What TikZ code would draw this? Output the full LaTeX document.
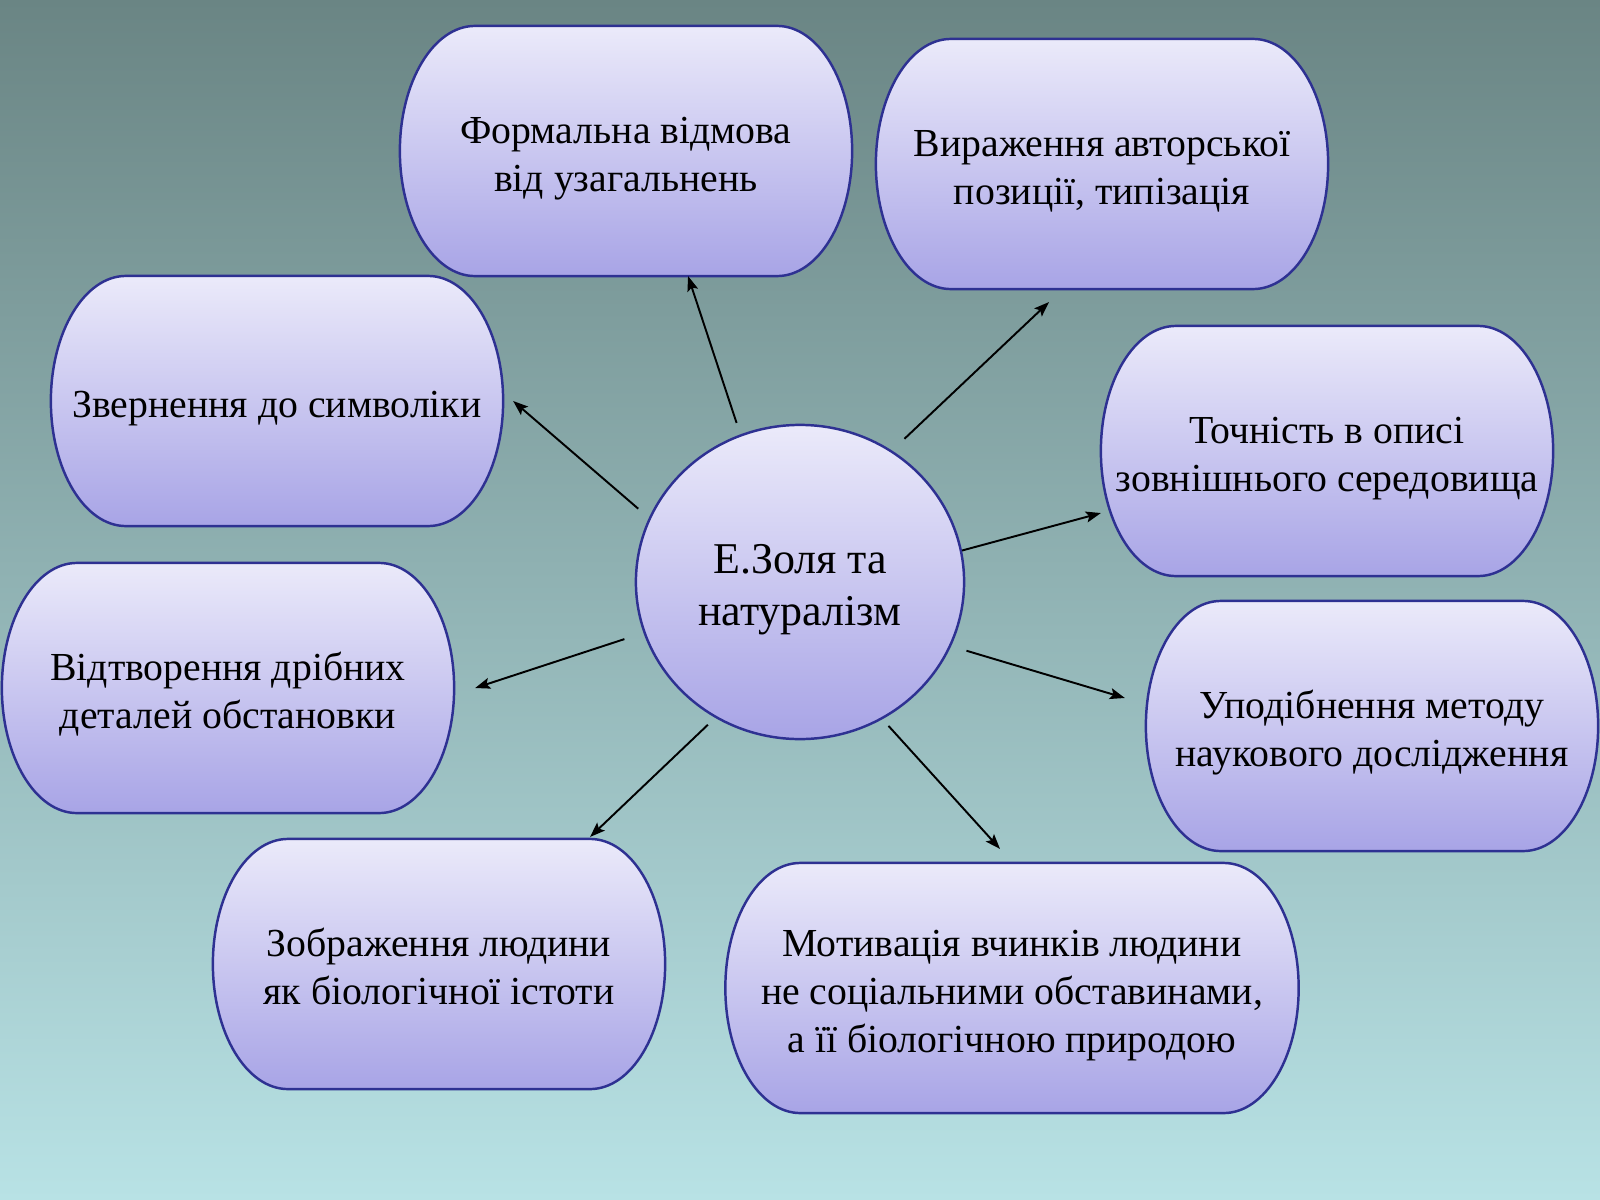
\documentclass[tikz,border=0pt]{standalone}
\usepackage{fontspec}
\setmainfont{Liberation Serif}
\usetikzlibrary{shapes.geometric,backgrounds,arrows.meta}
\tikzset{>={Stealth[length=0.15cm, width=0.11cm, inset=0.03cm]}}

\definecolor{pagetop}{HTML}{6A8584}
\definecolor{pagemid}{HTML}{97BCBD}
\definecolor{pagebot}{HTML}{B8E2E5}
\definecolor{blobtop}{HTML}{EBEAFA}
\definecolor{blobbot}{HTML}{A8A4E6}
\definecolor{blobedge}{HTML}{2E3192}

\tikzset{
  blob/.style={minimum height=2.5cm, minimum width=4.52cm, outer sep=0pt,
    font=\fontsize{11.3}{13.7}\selectfont},
  blobfill/.style={draw=blobedge, line width=0.7pt, top color=blobtop, bottom color=blobbot},
  topic/.style={ellipse, draw=blobedge, line width=0.7pt, top color=blobtop,
    bottom color=blobbot, minimum width=3.28cm, minimum height=3.14cm,
    font=\fontsize{12.5}{14.8}\selectfont},
  link/.style={->, line width=0.55pt}
}

% lines of a label, set a little below the middle
\newcommand\lowtext[1]{\raisebox{-2pt}[\height][\depth]{\begin{tabular}{@{}c@{}}#1\end{tabular}}}

% outline of a box: flat top and bottom, half-ellipse ends
\newcommand\blobline[1]{%
  \path[blobfill] ([xshift=0.75cm]#1.north west) -- ([xshift=-0.75cm]#1.north east)
    arc[start angle=90, end angle=-90, x radius=0.75cm, y radius=1.25cm]
    -- ([xshift=0.75cm]#1.south west)
    arc[start angle=270, end angle=90, x radius=0.75cm, y radius=1.25cm] -- cycle;}

\begin{document}
\begin{tikzpicture}[x=0.01cm, y=-0.01cm]
  \useasboundingbox (0,0) rectangle (1600,1200);

  % boxes
  \node[blob] (form) at (626,151) {\lowtext{Формальна відмова\\від узагальнень}};
  \node[blob] (posit) at (1102,164) {\lowtext{Вираження авторської\\позиції, типізація}};
  \node[blob] (symb) at (277,401) {\lowtext{Звернення до символіки}};
  \node[blob] (precis) at (1327,451) {\lowtext{Точність в описі\\зовнішнього середовища}};
  \node[blob] (detail) at (228,688) {\lowtext{Відтворення дрібних\\деталей обстановки}};
  \node[blob] (method) at (1372,726) {\lowtext{Уподібнення методу\\наукового дослідження}};
  \node[blob] (biol) at (439,964) {\lowtext{Зображення людини\\як біологічної істоти}};
  \node[blob, minimum width=5.73cm] (motiv) at (1012,988)
    {\lowtext{Мотивація вчинків людини\\не соціальними обставинами,\\а її біологічною природою}};

  % centre
  \node[topic] (zola) at (800,582) {\lowtext{Е.Золя та\\натуралізм}};

  \begin{pgfonlayer}{background}
    \fill[top color=pagetop, middle color=pagemid, bottom color=pagebot]
      (0,0) rectangle (1600,1200);
    \blobline{form}
    \blobline{posit}
    \blobline{symb}
    \blobline{precis}
    \blobline{detail}
    \blobline{method}
    \blobline{biol}
    \blobline{motiv}
  \end{pgfonlayer}

  % arrows
  \draw[link, shorten <=0.12cm] (zola.112) -- ([xshift=0.62cm]form.south);
  \draw[link, shorten <=0.17cm] (zola.55) -- ([xshift=-0.53cm, yshift=-0.13cm]posit.south);
  \draw[link, shorten <=0.14cm] (zola.157) -- ([xshift=0.10cm]symb.east);
  \draw[link] (zola.11) -- ([yshift=-0.62cm]precis.west);
  \draw[link, shorten <=0.2cm] (zola.198) -- ([xshift=0.21cm]detail.east);
  \draw[link, shorten <=0.16cm] (zola.-23) -- ([xshift=-0.21cm, yshift=0.28cm]method.west);
  \draw[link, shorten <=0.1cm] (zola.238) -- ([xshift=1.51cm, yshift=0.02cm]biol.north);
  \draw[link, shorten <=0.09cm] (zola.301.5) -- ([xshift=-0.12cm, yshift=0.14cm]motiv.north);
\end{tikzpicture}
\end{document}
